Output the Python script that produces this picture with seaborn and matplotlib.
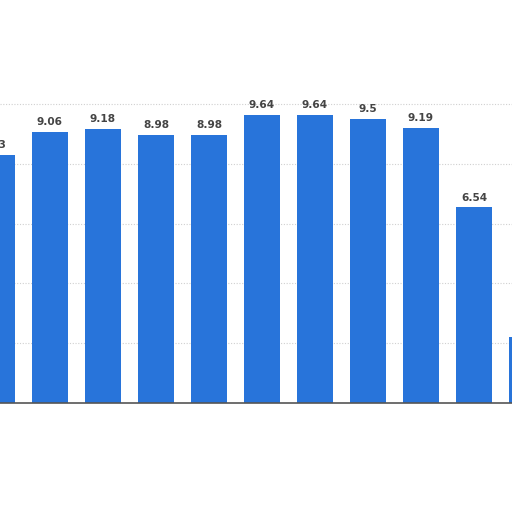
import pandas as pd
import matplotlib
matplotlib.use("Agg")
import matplotlib.pyplot as plt
import seaborn as sns

categories = ["c1", "c2", "c3", "c4", "c5", "c6", "c7", "c8", "c9", "c10", "c11"]
values = [8.3, 9.06, 9.18, 8.98, 8.98, 9.64, 9.64, 9.5, 9.19, 6.54, 2.2]
y_ticks = [0, 2, 4, 6, 8, 10]

df = pd.DataFrame({"cat": categories, "value": values})

sns.set_theme(style="white")
plt.rcParams["font.family"] = ["DejaVu Sans"]

fig = plt.figure(figsize=(5.12, 5.12), dpi=100)
ax = fig.add_axes([0, 0, 1, 1])

sns.barplot(data=df, x="cat", y="value", color="#2874DA", width=0.68,
            saturation=1, edgecolor="none", ax=ax)

# gridlines
for t in y_ticks[1:]:
    ax.axhline(t, color="#d0d0d0", lw=0.8, ls=(0, (1, 1.5)), zorder=0)
ax.axhline(0, color="#555555", lw=1.2, zorder=3)

# value labels
for i, v in enumerate(values):
    ax.text(i, v + 0.33, f"{v:g}", ha="center", va="center",
            fontsize=7.6, fontweight="bold", color="#444444", clip_on=True)

ax.set_xlim(0.057, 9.717)
ax.set_ylim(-3.645, 13.48)
ax.set_xlabel("")
ax.set_ylabel("")
ax.set_xticks([])
ax.set_yticks([])
for s in ax.spines.values():
    s.set_visible(False)

plt.savefig("out.png", dpi=100)
